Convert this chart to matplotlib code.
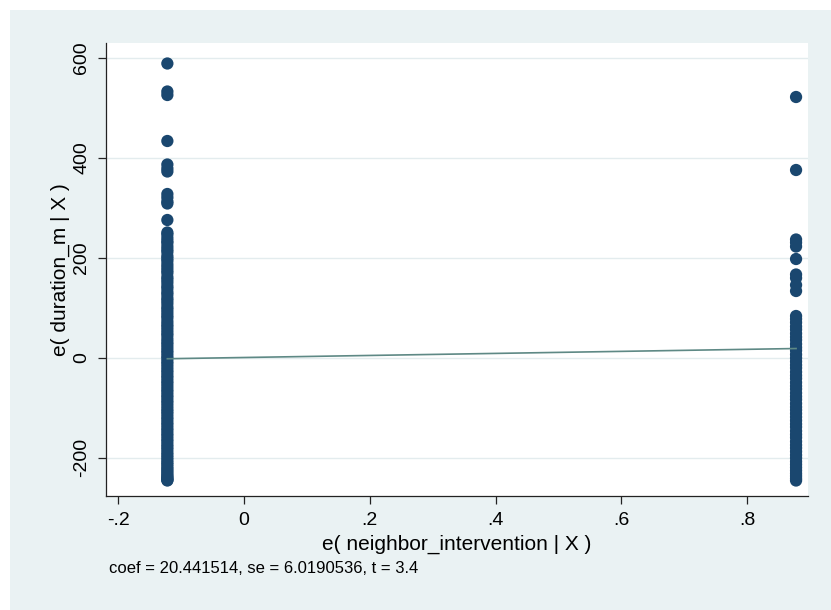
import matplotlib
matplotlib.use("Agg")
import matplotlib.pyplot as plt
from matplotlib.patches import Rectangle
import numpy as np

plt.rcParams['font.family'] = ['Liberation Sans', 'DejaVu Sans']

# Residualised regressor: two groups (treated / untreated)
nb_untreated = -0.122
nb_treated = 0.878

# Residualised outcome, untreated group
dur_untreated = [
    588, 532, 525, 433, 386, 378, 372, 327, 320, 312, 308, 275,
    250, 246, 239, 233, 229, 222, 216, 211, 203, 198, 193, 186, 180, 174,
    169, 161, 156, 150, 143, 138, 131, 126, 119, 114, 108, 101, 96, 90,
    84, 79, 72, 66, 61, 55, 49, 44, 37, 31, 26, 20, 14, 9, 3, -2, -8,
    -13, -19, -25, -30, -36, -41, -47, -52, -58, -64, -69, -75, -80, -86,
    -91, -97, -103, -108, -113, -119, -124, -130, -135, -141, -146, -152,
    -157, -163, -168, -174, -179, -184, -190, -195, -200, -205, -210,
    -214, -219, -223, -227, -231, -235, -238, -241, -243, -245, -246,
]

# Residualised outcome, treated group
dur_treated = [
    521, 375, 236, 230, 222, 197, 166, 159, 145, 133,
    83, 77, 70, 62, 56, 48, 41, 35, 27, 20, 14, 6, -1, -8, -15, -21,
    -29, -36, -42, -50, -57, -63, -71, -78, -84, -92, -99, -105, -112,
    -119, -126, -133, -139, -147, -154, -160, -168, -175, -181, -188,
    -195, -201, -208, -214, -220, -226, -232, -237, -242, -246,
]

coef = 20.441514
se = 6.0190536
t_stat = 3.4

x_ticks = [-0.2, 0, 0.2, 0.4, 0.6, 0.8]
x_ticklabels = ['-.2', '0', '.2', '.4', '.6', '.8']
y_ticks = [-200, 0, 200, 400, 600]
y_ticklabels = ['-200', '0', '200', '400', '600']

navy = '#1a476f'
teal = '#5e8985'
region = '#eaf2f3'

W, H = 831, 610
fig = plt.figure(figsize=(W / 100, H / 100), dpi=100)
fig.patch.set_facecolor('white')
fig.add_artist(Rectangle((10 / W, 0), 1 - 10 / W, 1 - 9.5 / H,
                         transform=fig.transFigure, facecolor=region,
                         edgecolor='none', zorder=0))

ax = fig.add_axes([106 / W, 1 - 496 / H, (808 - 106) / W, (496 - 43) / H])
ax.set_facecolor('white')

ax.set_xlim(-0.2196, 0.897)
ax.set_ylim(-277, 629)

for yv in y_ticks:
    ax.axhline(yv, color='#e3ecee', lw=1.0, zorder=1)

xs_u = np.full(len(dur_untreated), nb_untreated)
xs_t = np.full(len(dur_treated), nb_treated)
ax.scatter(xs_u, dur_untreated, s=78, color=navy, edgecolors='none', zorder=3)
ax.scatter(xs_t, dur_treated, s=78, color=navy, edgecolors='none', zorder=3)

# Fitted line through the origin of the residuals with the reported slope
xl = np.array([nb_untreated, nb_treated])
ax.plot(xl, coef * xl, color=teal, lw=1.2, zorder=4)

for side in ('top', 'right'):
    ax.spines[side].set_visible(False)
for side in ('left', 'bottom'):
    ax.spines[side].set_color('#222222')
    ax.spines[side].set_linewidth(0.9)

ax.set_xticks(x_ticks)
ax.set_xticklabels(x_ticklabels)
ax.set_yticks(y_ticks)
ax.set_yticklabels(y_ticklabels, rotation=90, va='center')
ax.tick_params(axis='both', direction='out', length=5.5, width=0.9,
               color='#222222', labelsize=14, pad=6)

ax.set_xlabel('e( neighbor_intervention | X )', fontsize=15, labelpad=4)
ax.set_ylabel('e( duration_m | X )', fontsize=15, labelpad=2)

fig.text(109 / W, 1 - 573 / H,
         f'coef = {coef:.6f}, se = {se:.7f}, t = {t_stat}',
         fontsize=12, ha='left', va='baseline')

fig.savefig('out.png', dpi=100, facecolor=fig.get_facecolor())
